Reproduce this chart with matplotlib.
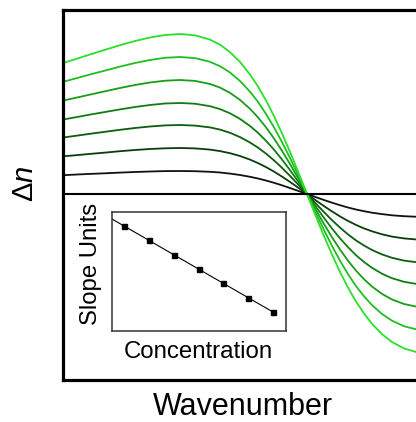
import numpy as np
import matplotlib
matplotlib.use("Agg")
import matplotlib.pyplot as plt

plt.rcParams["font.family"] = ["Liberation Sans", "DejaVu Sans"]
plt.rcParams["mathtext.fontset"] = "custom"
plt.rcParams["mathtext.rm"] = "Liberation Sans"
plt.rcParams["mathtext.it"] = "Liberation Sans:italic"

# wavenumber positions (arbitrary units) where the curves were read
wavenumber = [0, 12, 27, 42, 57, 72, 87, 102, 117, 132, 147, 157, 167, 177, 187, 195, 203,
              211, 219, 227, 235, 244, 253, 261, 269, 277, 285, 293, 301, 309, 319, 329, 341, 355]

# delta n for each concentration, lowest first
dn_1 = [18.8, 19.4, 20.1, 20.7, 21.4, 22.0, 22.5, 22.9, 23.0, 22.8, 22.2, 21.5, 20.4, 19.0,
        17.2, 15.5, 13.5, 11.2, 8.7, 6.0, 3.2, 0, -3.2, -6.0, -8.7, -11.2, -13.5, -15.5,
        -17.2, -18.7, -20.1, -21.3, -22.2, -22.8]
dn_2 = [37.7, 38.7, 40.1, 41.4, 42.8, 44.0, 45.0, 45.7, 46.0, 45.6, 44.4, 42.9, 40.8, 38.0,
        34.4, 30.9, 26.9, 22.4, 17.4, 12.1, 6.5, 0, -6.5, -12.1, -17.4, -22.4, -26.9, -30.9,
        -34.4, -37.3, -40.3, -42.6, -44.4, -45.6]
dn_3 = [56.5, 58.1, 60.2, 62.2, 64.2, 66.0, 67.5, 68.6, 69.0, 68.4, 66.6, 64.4, 61.2, 56.9,
        51.5, 46.4, 40.4, 33.6, 26.2, 18.1, 9.7, 0, -9.7, -18.1, -26.2, -33.6, -40.4, -46.4,
        -51.5, -56.0, -60.4, -63.8, -66.6, -68.4]
dn_4 = [74.5, 76.6, 79.4, 82.0, 84.6, 87.0, 89.0, 90.5, 91.0, 90.3, 87.8, 84.9, 80.7, 75.1,
        68.0, 61.2, 53.2, 44.3, 34.5, 23.9, 12.8, 0, -12.8, -23.9, -34.5, -44.3, -53.2, -61.2,
        -68.0, -73.8, -79.7, -84.2, -87.8, -90.2]
dn_5 = [93.4, 96.0, 99.4, 102.7, 106.0, 109.0, 111.5, 113.3, 114.0, 113.1, 110.0, 106.4, 101.1,
        94.1, 85.2, 76.6, 66.7, 55.5, 43.2, 30.0, 16.1, 0, -16.1, -30.0, -43.2, -55.5, -66.7,
        -76.6, -85.2, -92.5, -99.9, -105.5, -110.0, -113.0]
dn_6 = [112.2, 115.4, 119.5, 123.4, 127.4, 131.0, 134.0, 136.2, 137.0, 135.9, 132.2, 127.8,
        121.5, 113.0, 102.3, 92.1, 80.1, 66.7, 51.9, 36.0, 19.3, 0, -19.3, -36.0, -51.9, -66.7,
        -80.1, -92.1, -102.3, -111.1, -120.0, -126.7, -132.2, -135.8]
dn_7 = [131.0, 134.7, 139.5, 144.2, 148.8, 153.0, 156.5, 159.0, 160.0, 158.7, 154.4, 149.3,
        141.9, 132.0, 119.5, 107.5, 93.6, 77.9, 60.6, 42.1, 22.6, 0, -22.6, -42.1, -60.6, -77.9,
        -93.6, -107.5, -119.5, -129.8, -140.2, -148.0, -154.4, -158.6]

curve_colors = ["#111111", "#0b3d0b", "#0e5c0e", "#127c12", "#179e17", "#1dc01d", "#2ae02a"]

# inset: slope vs concentration
concentration = [1, 2, 3, 4, 5, 6, 7]
slope = [105, 91, 76, 62, 48, 33, 19]

W, H = 416, 422
fig = plt.figure(figsize=(W / 100, H / 100), dpi=100)

# main axes (right side runs off the figure, like the original)
ax = fig.add_axes([63 / W, 42 / H, 397 / W, 370 / H])
ax.set_xlim(0, 397)
ax.set_ylim(-186, 184)
for dn, c in zip([dn_1, dn_2, dn_3, dn_4, dn_5, dn_6, dn_7], curve_colors):
    ax.plot(wavenumber, dn, color=c, lw=1.3, solid_joinstyle="round")
ax.axhline(0, color="black", lw=1.5)
ax.set_xticks([]); ax.set_yticks([])
for s in ax.spines.values():
    s.set_linewidth(2.3)

# inset
ins = fig.add_axes([112 / W, (H - 331) / H, 174 / W, 119 / H])
ins.set_xlim(0.52, 7.52)
ins.set_ylim(0, 119)
k, b = np.polyfit(concentration, slope, 1)
fit_x = np.array([0.52, concentration[-1]])
ins.plot(fit_x, k * fit_x + b, color="black", lw=0.8)
ins.plot(concentration, slope, "s", color="black", ms=3.6)
ins.set_xticks([]); ins.set_yticks([])
for s in ins.spines.values():
    s.set_linewidth(1.1)
    s.set_color("#333333")

fig.text(198 / W, 1 - 358 / H, "Concentration", fontsize=17.3, ha="center", va="baseline")
fig.text(91 / W, 1 - 264 / H, "Slope Units", fontsize=17.2, rotation=90, ha="center", va="center")
fig.text(243 / W, 1 - 415 / H, "Wavenumber", fontsize=22, ha="center", va="baseline")
fig.text(25 / W, 1 - 184 / H, r"$\mathrm{\Delta}\mathit{n}$", fontsize=21, rotation=90,
         ha="center", va="center")

fig.savefig("out.png", dpi=100)
